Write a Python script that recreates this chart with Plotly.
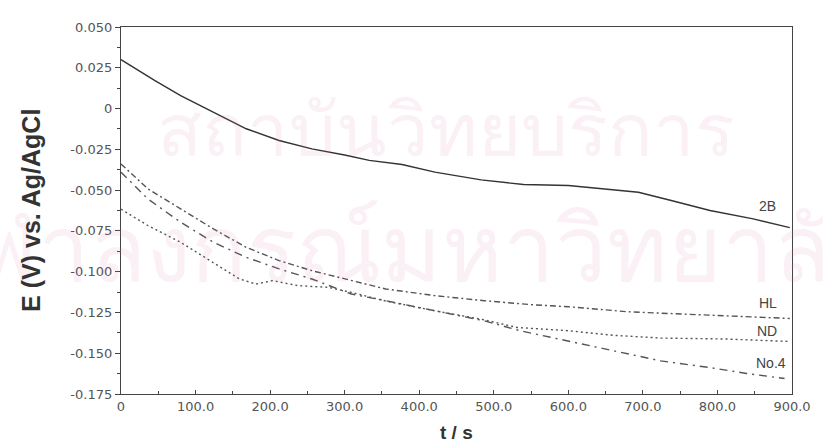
import plotly.graph_objects as go

# ---- data ----
t_2B = [0, 45, 80, 124, 168, 212, 256, 300, 333, 377, 421, 483, 540, 600, 694, 738, 790, 848, 897]
E_2B = [0.030, 0.0173, 0.008, -0.0022, -0.0124, -0.0196, -0.0247, -0.0285, -0.0318, -0.0343,
        -0.039, -0.0437, -0.0466, -0.0472, -0.0513, -0.0564, -0.0625, -0.0676, -0.073]

t_HL = [0, 36, 80, 124, 168, 212, 256, 300, 355, 421, 487, 553, 600, 680, 768, 839, 897]
E_HL = [-0.034, -0.0492, -0.0615, -0.0738, -0.0851, -0.0932, -0.0994, -0.1045, -0.1106, -0.1147,
        -0.1178, -0.1203, -0.1215, -0.1246, -0.1264, -0.1276, -0.1287]

t_ND = [0, 36, 80, 124, 159, 181, 203, 238, 278, 309, 355, 421, 487, 531, 600, 660, 724, 812, 897]
E_ND = [-0.0617, -0.0717, -0.082, -0.0943, -0.1045, -0.1076, -0.1055, -0.1086, -0.1096, -0.1127,
        -0.118, -0.124, -0.1295, -0.1342, -0.1362, -0.139, -0.1407, -0.1413, -0.1428]

t_No4 = [0, 36, 80, 124, 168, 212, 256, 309, 355, 421, 487, 535, 600, 658, 724, 790, 839, 890]
E_No4 = [-0.039, -0.0554, -0.0697, -0.082, -0.0912, -0.0983, -0.1045, -0.1137, -0.1178, -0.1239,
         -0.1301, -0.1362, -0.1425, -0.1485, -0.1547, -0.1588, -0.1624, -0.1655]

x_tickvals = [0, 100, 200, 300, 400, 500, 600, 700, 800, 900]
x_ticktext = ["0", "100.0", "200.0", "300.0", "400.0", "500.0", "600.0", "700.0", "800.0", "900.0"]
y_tickvals = [0.05, 0.025, 0, -0.025, -0.05, -0.075, -0.1, -0.125, -0.15, -0.175]
y_ticktext = ["0.050", "0.025", "0", "-0.025", "-0.050", "-0.075", "-0.100", "-0.125", "-0.150", "-0.175"]

series_labels = ["2B", "HL", "ND", "No.4"]

FONT = "DejaVu Sans, Arial, sans-serif"
TFONT = "Liberation Sans, Arial, sans-serif"

fig = go.Figure()

# watermark (faint, drawn first)
WM = "rgba(205,120,160,0.11)"
fig.add_annotation(text="สถาบันวิทยบริการ", xref="paper", yref="paper", x=0.485, y=0.72,
                   xanchor="center", yanchor="middle",
                   showarrow=False, font=dict(size=74, color=WM))
fig.add_annotation(text="จุฬาลงกรณ์มหาวิทยาลัย", xref="paper", yref="paper", x=0.42, y=0.39,
                   xanchor="center", yanchor="middle",
                   showarrow=False, font=dict(size=92, color=WM))

fig.add_trace(go.Scatter(x=t_2B, y=E_2B, mode="lines", name="2B",
                         line=dict(color="#333333", width=1.4)))
fig.add_trace(go.Scatter(x=t_HL, y=E_HL, mode="lines", name="HL",
                         line=dict(color="#555555", width=1.4, dash="6px,3px,2px,3px")))
fig.add_trace(go.Scatter(x=t_ND, y=E_ND, mode="lines", name="ND",
                         line=dict(color="#555555", width=1.4, dash="2px,3px")))
fig.add_trace(go.Scatter(x=t_No4, y=E_No4, mode="lines", name="No.4",
                         line=dict(color="#555555", width=1.4, dash="8px,5px,2px,5px")))

# series labels
label_pos = {"2B": (867, -0.0595), "HL": (868, -0.119), "ND": (866, -0.1362), "No.4": (872, -0.156)}
for lab in series_labels:
    x, y = label_pos[lab]
    fig.add_annotation(text=lab, x=x, y=y, xref="x", yref="y", showarrow=False,
                       font=dict(family=TFONT, size=14, color="#444444"))

# axis titles
fig.add_annotation(text="<b>E (V) vs. Ag/AgCl</b>", xref="paper", yref="paper",
                   x=-0.135, y=0.5, xanchor="center", yanchor="middle", textangle=-90,
                   showarrow=False, font=dict(family=TFONT, size=25, color="#333333"))
fig.add_annotation(text="<b>t / s</b>", xref="paper", yref="paper",
                   x=0.5, y=-0.106, xanchor="center", yanchor="middle",
                   showarrow=False, font=dict(family=TFONT, size=19, color="#333333"))

fig.update_layout(
    width=823, height=442,
    margin=dict(l=121, r=20, t=27, b=48),
    paper_bgcolor="white", plot_bgcolor="white",
    showlegend=False,
    font=dict(family=FONT, size=13, color="#555555"),
    xaxis=dict(range=[0, 900], tickmode="array", tickvals=x_tickvals, ticktext=x_ticktext,
               showgrid=False, zeroline=False, showline=True, mirror=True,
               linecolor="#444444", linewidth=1.3, ticks="inside", ticklen=4,
               tickcolor="#444444", tickfont=dict(family=FONT, size=13, color="#555555"),
               minor=dict(tickmode="linear", tick0=0, dtick=50, ticks="inside", ticklen=3,
                          tickcolor="#444444")),
    yaxis=dict(range=[-0.175, 0.05], tickmode="array", tickvals=y_tickvals, ticktext=y_ticktext,
               showgrid=False, zeroline=False, showline=True, mirror=True,
               linecolor="#444444", linewidth=1.3, ticks="outside", ticklen=5,
               tickcolor="#444444", tickfont=dict(family=FONT, size=13, color="#555555"),
               minor=dict(tickmode="linear", tick0=0, dtick=0.0125, ticks="outside", ticklen=3,
                          tickcolor="#444444")),
)

fig.write_html("out.html")
